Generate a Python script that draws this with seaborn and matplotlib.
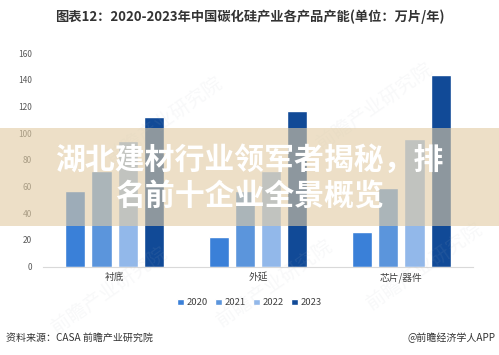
import seaborn as sns
import matplotlib.pyplot as plt
import pandas as pd
from matplotlib.patches import Rectangle

# data
categories = ["衬底", "外延", "芯片/器件"]
years = ["2020", "2021", "2022", "2023"]
cap_2020 = [57, 22, 26]
cap_2021 = [72, 57, 59]
cap_2022 = [94, 72, 96]
cap_2023 = [112, 117, 144]
colors = ["#3a80d8", "#5b95dc", "#92b8ea", "#114a97"]

rows = []
for yr, vals in zip(years, [cap_2020, cap_2021, cap_2022, cap_2023]):
    for c, v in zip(categories, vals):
        rows.append({"产品": c, "年份": yr, "产能": v})
df = pd.DataFrame(rows)

sns.set_style("white")
plt.rcParams["font.family"] = ["Noto Sans CJK SC", "DejaVu Sans"]

fig = plt.figure(figsize=(4.99, 3.55), dpi=100)
ax = fig.add_axes([0.086, 0.249, 0.862, 0.601])

sns.barplot(data=df, x="产品", y="产能", hue="年份", palette=colors,
            width=0.73, gap=0.23, saturation=1, errorbar=None, ax=ax)

ax.set_ylim(0, 160)
ax.set_yticks(range(0, 161, 20))
ax.set_xlabel("")
ax.set_ylabel("")
for s in ["top", "right", "left"]:
    ax.spines[s].set_visible(False)
ax.spines["bottom"].set_color("#d9d9d9")
ax.spines["bottom"].set_linewidth(0.8)
ax.tick_params(axis="both", length=0)
ax.tick_params(axis="y", labelsize=6, labelcolor="#595959", pad=8)
ax.tick_params(axis="x", labelsize=7, labelcolor="#404040", pad=4)

leg = ax.legend(loc="center", bbox_to_anchor=(0.5, 0.147), bbox_transform=fig.transFigure,
                ncol=4, frameon=False, fontsize=6.8, handlelength=0.7, handleheight=0.7,
                handletextpad=0.3, columnspacing=0.8)
for t in leg.get_texts():
    t.set_color("#404040")

# title and footer
fig.text(0.5, 0.952, "图表12：2020-2023年中国碳化硅产业各产品产能(单位：万片/年)",
         ha="center", va="center", fontsize=9.5, fontweight="bold", color="#333333")
fig.text(0.012, 0.048, "资料来源：CASA 前瞻产业研究院", ha="left", va="center",
         fontsize=7.2, color="#333333")
fig.text(0.993, 0.048, "@前瞻经济学人APP", ha="right", va="center",
         fontsize=7.2, color="#333333")

# faint watermarks
for x, y in [(0.33, 0.66), (0.75, 0.70), (0.55, 0.20), (0.22, 0.18), (0.85, 0.25)]:
    fig.text(x, y, "前瞻产业研究院", rotation=35, ha="center", va="center",
             fontsize=14, color="#b0b8c0", alpha=0.09, zorder=4)

# overlay banner
fig.patches.append(Rectangle((0, 0.363), 1, 0.276, transform=fig.transFigure,
                             facecolor="#e1cba3", alpha=0.6, edgecolor="none", zorder=5))
fig.text(0.5, 0.549, "湖北建材行业领军者揭秘，排", ha="center", va="center",
         fontsize=21.5, fontweight="bold", color="white", zorder=6)
fig.text(0.5, 0.448, "名前十企业全景概览", ha="center", va="center",
         fontsize=21.5, fontweight="bold", color="white", zorder=6)

fig.savefig("out.png", dpi=100)
